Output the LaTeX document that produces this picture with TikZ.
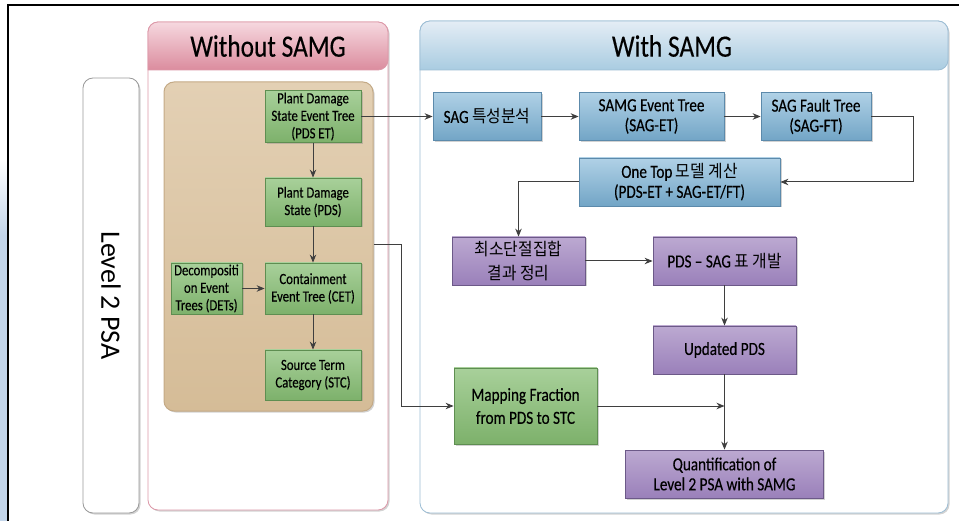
\documentclass[tikz,border=0pt]{standalone}
\usepackage{fontspec}
\setmainfont{Carlito}[FakeStretch=0.82,FakeBold=0.3]
\newfontfamily\kr[Scale=0.93,FakeStretch=0.92]{Noto Sans CJK KR}
\newfontfamily\levelfont{Carlito}
\usepackage{tikz}
\usetikzlibrary{arrows.meta,shadows,calc}

\definecolor{framebl}{HTML}{C3D5EA}
\definecolor{linegray}{HTML}{3F3F3F}
\definecolor{pinkline}{HTML}{DC98A8}
\definecolor{pinktop}{HTML}{F6D8DF}
\definecolor{pinkbot}{HTML}{DB8C9E}
\definecolor{blueline}{HTML}{9CBDD4}
\definecolor{bluetop}{HTML}{E4EDF5}
\definecolor{bluebot}{HTML}{A9CCE1}
\definecolor{tanline}{HTML}{C4AA86}
\definecolor{tantop}{HTML}{E3D0B4}
\definecolor{tanbot}{HTML}{D5BC97}
\definecolor{greenline}{HTML}{5E8E51}
\definecolor{greentop}{HTML}{A8D09A}
\definecolor{greenbot}{HTML}{7DB16B}
\definecolor{boxline}{HTML}{5C8AAB}
\definecolor{boxtop}{HTML}{B0D1E6}
\definecolor{boxbot}{HTML}{72A5C6}
\definecolor{violetline}{HTML}{6C5988}
\definecolor{violettop}{HTML}{BCA9D1}
\definecolor{violetbot}{HTML}{9A80BA}

\tikzstyle{shadowed} = [drop shadow={opacity=0.35,shadow xshift=1.5pt,shadow yshift=-1.5pt}]
\tikzstyle{box}      = [draw,inner sep=0pt,align=center,line width=0.8pt,shadowed]
\tikzstyle{greenbox} = [box,draw=greenline,top color=greentop,bottom color=greenbot,font=\fontsize{15.5}{17.5}\selectfont]
\tikzstyle{bluebox}  = [box,draw=boxline,top color=boxtop,bottom color=boxbot,font=\fontsize{18.5}{20}\selectfont]
\tikzstyle{violetbox}= [box,draw=violetline,top color=violettop,bottom color=violetbot,font=\fontsize{18.5}{20}\selectfont]
\tikzstyle{panel}    = [draw,fill=white,rounded corners=10pt,line width=0.8pt,shadowed]
\tikzstyle{tanbox}   = [draw=tanline,top color=tantop,bottom color=tanbot,rounded corners=10pt,shadowed]
\tikzstyle{title}    = [font=\fontsize{31}{34}\selectfont]

\begin{document}
\begin{tikzpicture}[x=1pt,y=-1pt,>={Stealth[length=8pt,width=6.5pt]},line width=1pt]
\useasboundingbox (0,0) rectangle (959,521);

% page frame
\shade[top color=white,bottom color=framebl] (0,160) rectangle (7,235);
\fill[framebl] (0,235) rectangle (7,521);
\draw[line width=1.5pt] (8,521) -- (8,5) -- (959,5);

% level label
\node[panel,draw=black!40,minimum width=56,minimum height=435] (L2) at (111,295.5) {};
\node[rotate=-90,font=\levelfont\fontsize{28}{30}\selectfont] at (L2) {Level 2 PSA};

% without SAMG
\node[panel,draw=pinkline,minimum width=240,minimum height=488] (P1) at (268,266) {};
\shade[draw=pinkline,line width=0.8pt,top color=pinktop,bottom color=pinkbot]
    (148,70) {[rounded corners=10pt] |- (268,22) -| (388,70)} -- cycle;
\node[title] (T1) at (268,46) {Without SAMG};
\node[tanbox,minimum width=209,minimum height=329] (G) at (268.5,246.5) {};

\node[greenbox,minimum width=96,minimum height=52] (PDSET) at (313,116.5) {Plant Damage\\State Event Tree\\(PDS ET)};
\node[greenbox,minimum width=96,minimum height=48] (PDS)   at (313,202)   {Plant Damage\\State (PDS)};
\node[greenbox,minimum width=71,minimum height=51] (DET)   at (206.5,288.5) {Decompositi\\on Event\\Trees (DETs)};
\node[greenbox,minimum width=96,minimum height=51] (CET)   at (313,288.5) {Containment\\Event Tree (CET)};
\node[greenbox,minimum width=96,minimum height=50] (STC)   at (313,375)   {Source Term\\Category (STC)};

% with SAMG
\node[panel,draw=blueline,minimum width=528,minimum height=492] (P2) at (684,267) {};
\shade[draw=blueline,line width=0.8pt,top color=bluetop,bottom color=bluebot]
    (420,70) {[rounded corners=10pt] |- (684,21) -| (948,70)} -- cycle;
\node[title] (T2) at (672,46) {With SAMG};

\node[bluebox,minimum width=108,minimum height=48] (SAG)    at (487,116.5)   {SAG {\kr 특성분석}};
\node[bluebox,minimum width=145,minimum height=48] (SAGET)  at (651.5,116.5) {SAMG Event Tree\\(SAG-ET)};
\node[bluebox,minimum width=110,minimum height=48] (SAGFT)  at (816,116.5)   {SAG Fault Tree\\(SAG-FT)};
\node[bluebox,minimum width=201,minimum height=48] (ONETOP) at (679.5,182)   {One Top {\kr 모델 계산}\\(PDS-ET + SAG-ET/FT)};

\node[violetbox,minimum width=133,minimum height=48,font=\fontsize{18.5}{24}\selectfont] (MCS) at (518.5,261) {{\kr 최소단절집합}\\{\kr 결과 정리}};
\node[violetbox,minimum width=143,minimum height=48] (PDSSAG) at (724.5,261) {PDS -- SAG {\kr 표 개발}};
\node[violetbox,minimum width=143,minimum height=48] (UPDS)   at (724.5,350) {Updated PDS};
\node[violetbox,minimum width=198,minimum height=48] (QUANT)  at (724.5,474) {Quantification of\\Level 2 PSA with SAMG};
\node[greenbox,minimum width=143,minimum height=76,font=\fontsize{18.5}{23}\selectfont] (MAP) at (525.5,406) {Mapping Fraction\\from PDS to STC};

% connectors
\coordinate (M) at ($(PDS.south)!0.5!(CET.north)$);
\begin{scope}[draw=linegray,->]
\path
    (PDSET) edge (PDS)
    (PDS)   edge (CET)
    (DET)   edge (CET)
    (CET)   edge (STC)
    (PDSET) edge (SAG)
    (SAG)   edge (SAGET)
    (SAGET) edge (SAGFT)
    (MCS)   edge (PDSSAG)
    (PDSSAG) edge (UPDS)
    (UPDS)  edge (QUANT);
\draw (SAGFT.east) -- ++(42,0) |- (ONETOP.east);
\draw (ONETOP.west) -| (MCS.north);
\draw (MAP.east) -- (UPDS.south |- MAP.east);
\draw (G.east |- M) -- ++(28,0) |- (MAP.west);
\end{scope}

\end{tikzpicture}
\end{document}
